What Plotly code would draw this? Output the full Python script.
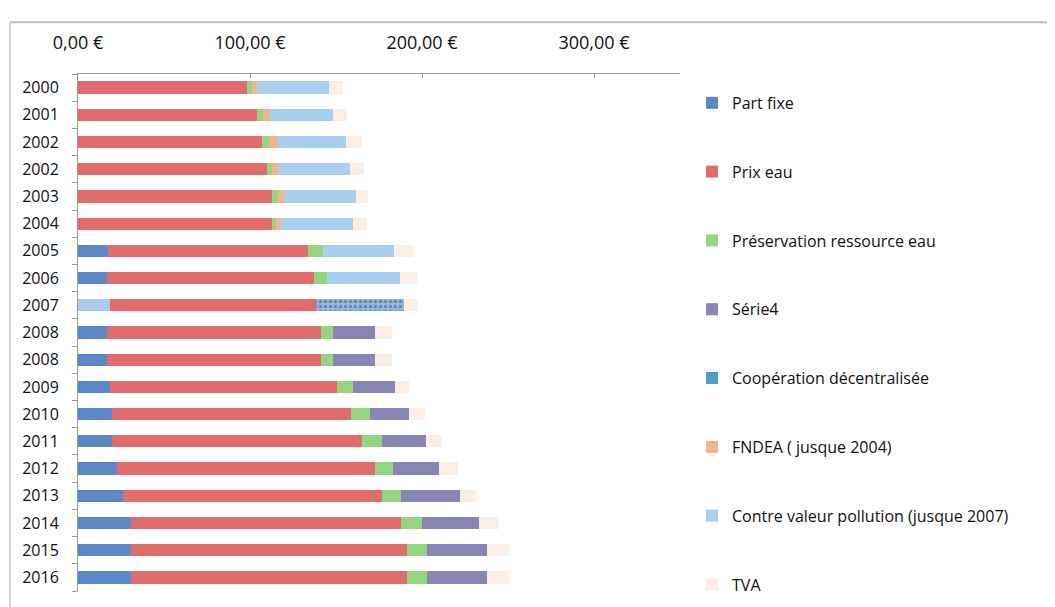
import plotly.graph_objects as go

years = ["2000", "2001", "2002", "2002", "2003", "2004", "2005", "2006", "2007",
         "2008", "2008", "2009", "2010", "2011", "2012", "2013", "2014", "2015", "2016"]

part_fixe = [0, 0, 0, 0, 0, 0, 17.5, 17, 18.5, 17, 17, 18.5, 19.5, 20, 22.5, 26, 31, 31, 31]
prix_eau = [98, 104, 107, 110, 113, 113, 116, 120, 120, 124, 124, 132, 139.5, 145, 150, 150.5, 157, 160.5, 160]
preservation = [3, 3.5, 4, 3, 3.5, 2, 9, 8, 9, 7.5, 7.5, 9.5, 10.5, 11.5, 10.5, 11.5, 12, 11.5, 12]
serie4 = [0, 0, 0, 0, 0, 0, 0, 0, 0, 24, 24, 24.5, 23, 26, 27, 34, 33, 34.5, 34.5]
cooperation = [0, 0, 0, 0, 0, 0, 0, 0, 0, 0, 0, 0, 0, 0, 0, 0, 0, 0, 0]
fndea = [3, 4, 5, 3, 3, 3, 0, 0, 0, 0, 0, 0, 0, 0, 0, 0, 0, 0, 0]
contre_valeur = [42, 37, 40, 42, 42, 42, 41, 42, 42, 0, 0, 0, 0, 0, 0, 0, 0, 0, 0]
tva = [8, 8, 9, 8, 7, 8, 11, 10, 8, 10, 10, 8, 9, 9, 11, 10, 11.5, 13, 13]

x_tick_values = [0, 100, 200, 300]
x_tick_labels = ["0,00 €", "100,00 €", "200,00 €", "300,00 €"]

series = [
    ("Part fixe", part_fixe, "#5B88C9"),
    ("Prix eau", prix_eau, "#E46B6B"),
    ("Préservation ressource eau", preservation, "#93D67E"),
    ("Série4", serie4, "#8986B6"),
    ("Coopération décentralisée", cooperation, "#4A9FCB"),
    ("FNDEA ( jusque 2004)", fndea, "#F2B48C"),
    ("Contre valeur pollution (jusque 2007)", contre_valeur, "#A9CFF0"),
    ("TVA", tva, "#FCEDE5"),
]

pos = list(range(len(years)))
odd_year = "2007"

fig = go.Figure()
for i, (name, vals, col) in enumerate(series):
    colors = [col] * len(years)
    shapes = [""] * len(years)
    idx = years.index(odd_year)
    if name == "Part fixe":
        colors[idx] = "#A9CCEE"
    if name in ("Préservation ressource eau", "Contre valeur pollution (jusque 2007)"):
        colors[idx] = "#8DB6E4"
        shapes[idx] = "."
    fig.add_trace(go.Bar(
        y=pos, x=vals, name=name, orientation="h",
        marker=dict(color=colors, line=dict(width=0),
                    pattern=dict(shape=shapes, fgcolor="#E9A0B0", size=5, solidity=0.3)),
        legendgroup=f"g{i}",
    ))

fig.update_layout(
    width=1055, height=607,
    barmode="stack", bargap=0.55,
    plot_bgcolor="white", paper_bgcolor="white",
    margin=dict(l=70, r=383, t=66, b=24),
    font=dict(family="Open Sans", color="#111"),
    showlegend=True,
    legend=dict(x=1.02, y=0.977, xanchor="left", yanchor="top",
                maxheight=600,
                font=dict(size=16, family="Open Sans", color="#111"),
                tracegroupgap=45, itemwidth=30, bgcolor="rgba(0,0,0,0)"),
    xaxis=dict(side="top", range=[0, 350], tickvals=x_tick_values, ticktext=x_tick_labels,
               showgrid=False, zeroline=False,
               showline=True, linecolor="#9a9a9a", linewidth=1,
               ticks="inside", ticklen=4, tickcolor="#9a9a9a",
               tickfont=dict(size=18, family="Open Sans", color="#111"),
               ticklabelstandoff=17),
    yaxis=dict(range=[len(years) - 0.5, -0.5], tickvals=pos, ticktext=years,
               showgrid=False, zeroline=False, showline=True, linecolor="#9a9a9a",
               ticks="", tickfont=dict(size=16, family="Open Sans", color="#111"),
               ticklabelstandoff=15,
               minor=dict(tick0=0.5, dtick=1, ticks="outside", ticklen=5,
                          tickcolor="#9a9a9a", showgrid=False)),
    shapes=[
        dict(type="line", xref="paper", yref="paper", x0=-0.113, x1=1.7, y0=1.1, y1=1.1,
             line=dict(color="#bdbdbd", width=2)),
        dict(type="line", xref="paper", yref="paper", x0=-0.113, x1=-0.113, y0=1.1, y1=-0.1,
             line=dict(color="#d0d0d0", width=2)),
    ],
)

fig.write_html("out.html")
